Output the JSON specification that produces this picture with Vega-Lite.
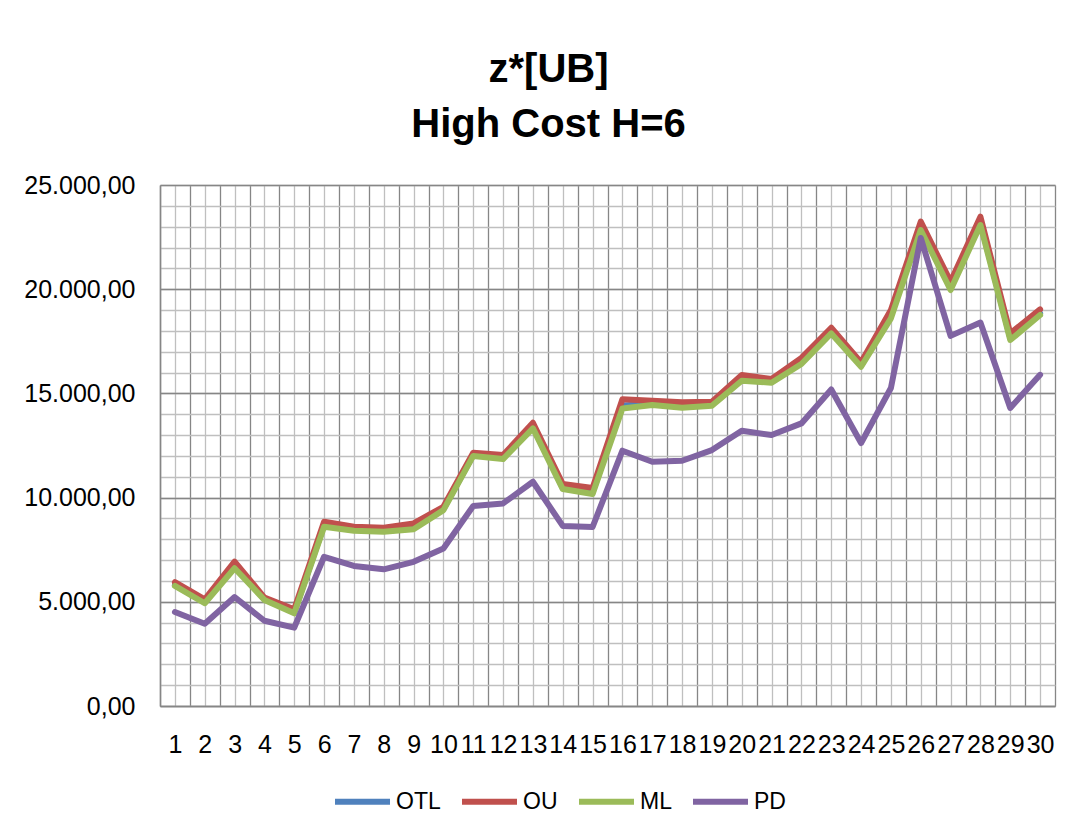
{
  "$schema": "https://vega.github.io/schema/vega-lite/v6.json",
  "width": 895,
  "height": 521,
  "autosize": "none",
  "padding": {"left": 160, "top": 185, "right": 19, "bottom": 123},
  "background": "white",
  "config": {
    "locale": {"number": {"decimal": ",", "thousands": ".", "grouping": [3], "currency": ["", " €"]}},
    "view": {"stroke": null},
    "font": "Liberation Sans"
  },
  "title": {
    "text": ["z*[UB]", "High Cost H=6"],
    "fontSize": 40,
    "fontWeight": "bold",
    "font": "Liberation Sans",
    "color": "black",
    "anchor": "middle",
    "frame": "group",
    "dx": -59,
    "offset": 28,
    "lineHeight": 55
  },
  "data": {
    "values": [
      {"n": 1, "OTL": 5800, "OU": 5940, "ML": 5760, "PD": 4510},
      {"n": 2, "OTL": 4980, "OU": 5120, "ML": 4930, "PD": 3950},
      {"n": 3, "OTL": 6700, "OU": 6930, "ML": 6610, "PD": 5230},
      {"n": 4, "OTL": 5120, "OU": 5200, "ML": 5090, "PD": 4090},
      {"n": 5, "OTL": 4500, "OU": 4640, "ML": 4450, "PD": 3760},
      {"n": 6, "OTL": 8680, "OU": 8840, "ML": 8600, "PD": 7160},
      {"n": 7, "OTL": 8460, "OU": 8600, "ML": 8410, "PD": 6720},
      {"n": 8, "OTL": 8410, "OU": 8550, "ML": 8360, "PD": 6560},
      {"n": 9, "OTL": 8550, "OU": 8760, "ML": 8480, "PD": 6920},
      {"n": 10, "OTL": 9450, "OU": 9560, "ML": 9400, "PD": 7560},
      {"n": 11, "OTL": 12040, "OU": 12150, "ML": 12000, "PD": 9600},
      {"n": 12, "OTL": 11900, "OU": 12040, "ML": 11850, "PD": 9720},
      {"n": 13, "OTL": 13400, "OU": 13590, "ML": 13320, "PD": 10760},
      {"n": 14, "OTL": 10480, "OU": 10650, "ML": 10410, "PD": 8640},
      {"n": 15, "OTL": 10250, "OU": 10460, "ML": 10170, "PD": 8590},
      {"n": 16, "OTL": 14420, "OU": 14720, "ML": 14280, "PD": 12250},
      {"n": 17, "OTL": 14500, "OU": 14650, "ML": 14440, "PD": 11720},
      {"n": 18, "OTL": 14390, "OU": 14570, "ML": 14310, "PD": 11770},
      {"n": 19, "OTL": 14460, "OU": 14600, "ML": 14410, "PD": 12280},
      {"n": 20, "OTL": 15700, "OU": 15880, "ML": 15610, "PD": 13210},
      {"n": 21, "OTL": 15560, "OU": 15690, "ML": 15510, "PD": 13000},
      {"n": 22, "OTL": 16500, "OU": 16700, "ML": 16410, "PD": 13560},
      {"n": 23, "OTL": 17960, "OU": 18150, "ML": 17880, "PD": 15190},
      {"n": 24, "OTL": 16340, "OU": 16490, "ML": 16280, "PD": 12620},
      {"n": 25, "OTL": 18720, "OU": 19000, "ML": 18600, "PD": 15260},
      {"n": 26, "OTL": 22960, "OU": 23240, "ML": 22840, "PD": 22460},
      {"n": 27, "OTL": 20080, "OU": 20360, "ML": 19960, "PD": 17760},
      {"n": 28, "OTL": 23200, "OU": 23480, "ML": 23080, "PD": 18400},
      {"n": 29, "OTL": 17660, "OU": 17880, "ML": 17560, "PD": 14300},
      {"n": 30, "OTL": 18840, "OU": 19030, "ML": 18760, "PD": 15890}
    ]
  },
  "transform": [{"fold": ["OTL", "OU", "ML", "PD"], "as": ["series", "value"]}],
  "layer": [
    {
      "mark": {"type": "line", "opacity": 0},
      "encoding": {
        "x": {
          "field": "n", "type": "quantitative",
          "scale": {"domain": [0.5, 30.5], "nice": false, "zero": false},
          "axis": {
            "orient": "bottom", "title": null,
            "values": [1,2,3,4,5,6,7,8,9,10,11,12,13,14,15,16,17,18,19,20,21,22,23,24,25,26,27,28,29,30],
            "format": "d", "labelFontSize": 25, "labelColor": "black", "labelPadding": 26,
            "labelFont": "Liberation Sans", "labelOverlap": false, "labelFlush": false,
            "ticks": false, "domain": false,
            "grid": true, "gridColor": "#bfbfbf", "gridWidth": 1.3
          }
        },
        "y": {
          "field": "value", "type": "quantitative",
          "scale": {"domain": [0, 25000], "nice": false},
          "axis": {
            "orient": "left", "title": null,
            "values": [0,1000,2000,3000,4000,5000,6000,7000,8000,9000,10000,11000,12000,13000,14000,15000,16000,17000,18000,19000,20000,21000,22000,23000,24000,25000],
            "labels": false, "ticks": false, "domain": false,
            "grid": true, "gridColor": "#bfbfbf", "gridWidth": 1.3
          }
        },
        "detail": {"field": "series"}
      }
    },
    {
      "mark": {"type": "line", "strokeWidth": 6, "strokeCap": "round", "strokeJoin": "round"},
      "encoding": {
        "x": {
          "field": "n", "type": "quantitative",
          "scale": {"domain": [0.5, 30.5], "nice": false, "zero": false},
          "axis": {
            "orient": "bottom", "title": null,
            "values": [0.5,1.5,2.5,3.5,4.5,5.5,6.5,7.5,8.5,9.5,10.5,11.5,12.5,13.5,14.5,15.5,16.5,17.5,18.5,19.5,20.5,21.5,22.5,23.5,24.5,25.5,26.5,27.5,28.5,29.5,30.5],
            "labels": false, "ticks": false,
            "domain": true, "domainColor": "#868686", "domainWidth": 1.5,
            "grid": true, "gridColor": "#868686", "gridWidth": 1.3
          }
        },
        "y": {
          "field": "value", "type": "quantitative",
          "scale": {"domain": [0, 25000], "nice": false},
          "axis": {
            "orient": "left", "title": null,
            "values": [0, 5000, 10000, 15000, 20000, 25000],
            "format": ",.2f", "labelFontSize": 25, "labelColor": "black", "labelPadding": 25,
            "labelFont": "Liberation Sans", "labelFlush": false,
            "ticks": false,
            "domain": true, "domainColor": "#868686", "domainWidth": 1.5,
            "grid": true, "gridColor": "#868686", "gridWidth": 1.3
          }
        },
        "color": {
          "field": "series", "type": "nominal",
          "scale": {"domain": ["OTL", "OU", "ML", "PD"], "range": ["#4F81BD", "#C0504D", "#9BBB59", "#8064A2"]},
          "legend": {
            "orient": "none", "legendX": 172, "legendY": 586,
            "direction": "horizontal", "title": null,
            "symbolType": "stroke", "symbolSize": 3025, "symbolStrokeWidth": 6,
            "labelFontSize": 23, "labelFont": "Liberation Sans", "labelColor": "black",
            "columnPadding": 9, "labelOffset": 3
          }
        }
      }
    }
  ],
  "resolve": {"axis": {"x": "independent", "y": "independent"}}
}
